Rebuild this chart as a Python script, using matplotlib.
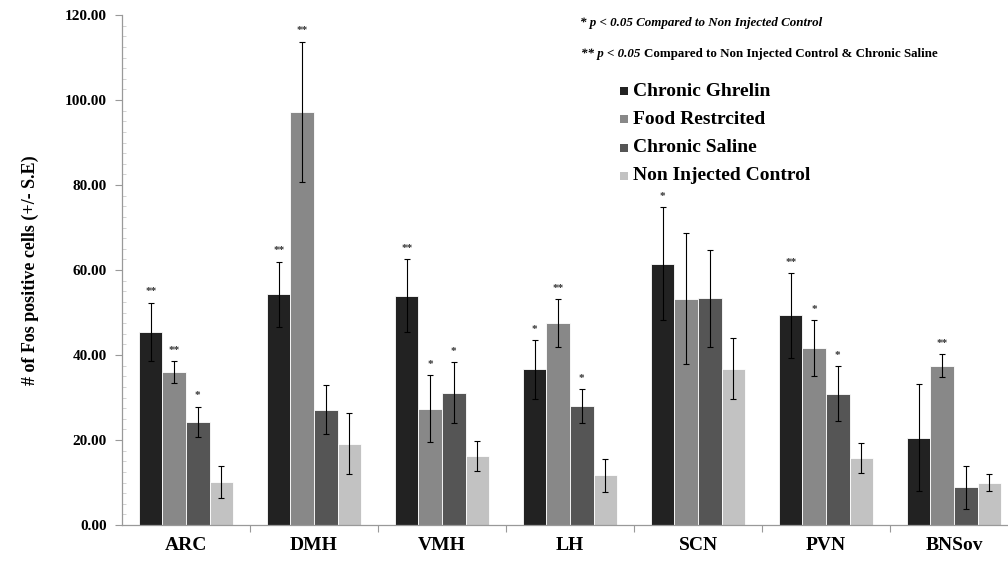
import matplotlib
matplotlib.use("Agg")
import matplotlib.pyplot as plt
from matplotlib.patches import Rectangle
from matplotlib.ticker import MultipleLocator, FixedLocator, NullFormatter
import numpy as np

regions = ["ARC", "DMH", "VMH", "LH", "SCN", "PVN", "BNSov"]
series = ["Chronic Ghrelin", "Food Restrcited", "Chronic Saline", "Non Injected Control"]
colors = ["#222222", "#888888", "#555555", "#c2c2c2"]

chronic_ghrelin = [45.5, 54.3, 53.9, 36.6, 61.5, 49.3, 20.5]
food_restricted = [36.0, 97.2, 27.4, 47.5, 53.2, 41.6, 37.5]
chronic_saline = [24.3, 27.1, 31.1, 27.9, 53.3, 30.9, 8.9]
non_injected = [10.2, 19.1, 16.2, 11.7, 36.8, 15.8, 10.0]

se_ghrelin = [6.8, 7.7, 8.6, 6.9, 13.3, 9.9, 12.6]
se_food = [2.6, 16.5, 7.8, 5.6, 15.4, 6.6, 2.7]
se_saline = [3.5, 5.8, 7.2, 4.0, 11.3, 6.4, 5.1]
se_control = [3.8, 7.2, 3.6, 3.9, 7.2, 3.5, 1.9]

sig_ghrelin = ["**", "**", "**", "*", "*", "**", ""]
sig_food = ["**", "**", "*", "**", "", "*", "**"]
sig_saline = ["*", "", "*", "*", "", "*", ""]
sig_control = ["", "", "", "", "", "", ""]

values = [chronic_ghrelin, food_restricted, chronic_saline, non_injected]
errors = [se_ghrelin, se_food, se_saline, se_control]
sigs = [sig_ghrelin, sig_food, sig_saline, sig_control]

plt.rcParams['font.family'] = ['Liberation Serif', 'DejaVu Serif']
plt.rcParams['font.weight'] = 'bold'

W, H = 1008, 561
fig = plt.figure(figsize=(W / 100, H / 100), dpi=100)
ax = fig.add_axes([122 / W, 1 - 525 / H, 1 - 122 / W, 510 / H])

x = np.arange(len(regions))
bw = 0.1836
for i, (vals, errs, sg) in enumerate(zip(values, errors, sigs)):
    pos = x + (i - 1.5) * bw
    ax.bar(pos, vals, width=bw, color=colors[i], edgecolor="white", linewidth=0.6, zorder=2)
    ax.errorbar(pos, vals, yerr=errs, fmt="none", ecolor="black", elinewidth=0.8,
                capsize=2.5, capthick=0.8, zorder=3)
    for p, v, e, s in zip(pos, vals, errs, sg):
        if s:
            ax.text(p, v + e + 1.5, s, ha="center", va="bottom", fontsize=8,
                    color="#333333", fontweight="bold")

ax.set_xlim(-0.5, -0.5 + (W - 122) / 128)
ax.set_ylim(0, 120)

ax.spines["top"].set_visible(False)
ax.spines["right"].set_visible(False)
for s in ["left", "bottom"]:
    ax.spines[s].set_color("#999999")
    ax.spines[s].set_linewidth(0.9)

ax.yaxis.set_major_locator(MultipleLocator(20))
ax.yaxis.set_major_formatter(matplotlib.ticker.FormatStrFormatter("%.2f"))
ax.yaxis.set_minor_locator(MultipleLocator(2.5))
ax.tick_params(axis="y", which="major", direction="out", length=5, color="#999999",
               labelsize=11, pad=6)
ax.tick_params(axis="y", which="minor", direction="in", length=3, color="#cccccc")

ax.xaxis.set_major_locator(FixedLocator(list(np.arange(0.5, len(regions), 1.0))))
ax.xaxis.set_major_formatter(NullFormatter())
ax.xaxis.set_minor_locator(FixedLocator(list(x)))
ax.set_xticklabels(regions, minor=True)
ax.tick_params(axis="x", which="major", direction="out", length=5, color="#999999")
ax.tick_params(axis="x", which="minor", length=0, labelsize=14, pad=9)

for lbl in ax.get_yticklabels() + ax.get_xticklabels(minor=True):
    lbl.set_fontweight("bold")

fig.text(30 / W, 1 - 270 / H, "# of Fos positive cells (+/- S.E)", rotation=90,
         ha="center", va="center", fontsize=13, fontweight="bold")

# significance notes
fig.text(580 / W, 1 - 23 / H, "* p < 0.05 Compared to Non Injected Control",
         ha="left", va="center", fontsize=9.4, fontweight="bold", style="italic")
t2 = fig.text(581 / W, 1 - 54 / H, "** p < 0.05 ", ha="left", va="center",
              fontsize=9.4, fontweight="bold", style="italic")
fig.canvas.draw()
bb = t2.get_window_extent()
fig.text(bb.x1 / W, 1 - 54 / H, "Compared to Non Injected Control & Chronic Saline",
         ha="left", va="center", fontsize=9.4, fontweight="bold")

# legend
rows = [91, 119, 148, 176]
for name, c, yy in zip(series, colors, rows):
    fig.patches.append(Rectangle((620 / W, 1 - (yy + 4) / H), 8 / W, 8 / H,
                                 transform=fig.transFigure, facecolor=c, edgecolor="none"))
    fig.text(633 / W, 1 - yy / H, name, ha="left", va="center", fontsize=14, fontweight="bold")

fig.savefig("out.png", dpi=100)
